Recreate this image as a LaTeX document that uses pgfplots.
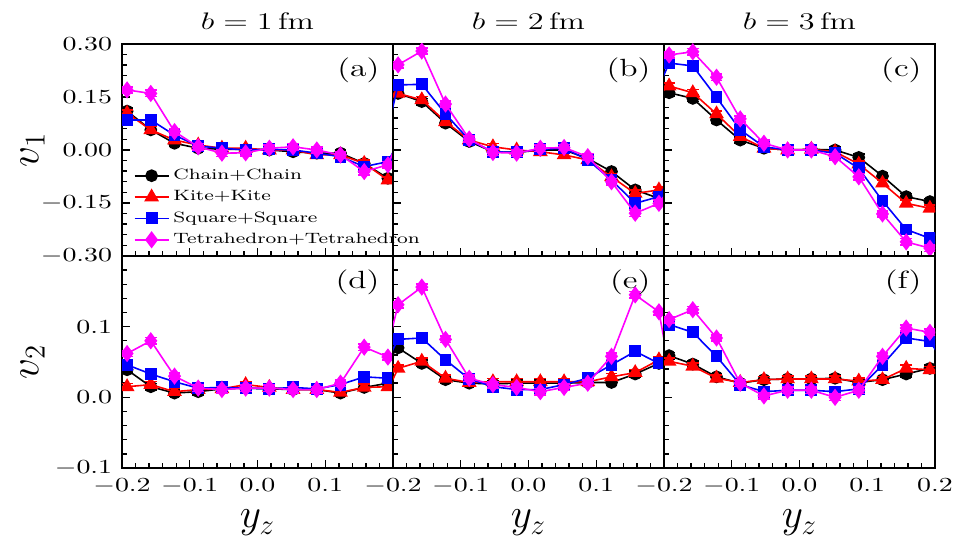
\documentclass[border=0pt]{standalone}
\usepackage{graphicx}
\usepackage{pgfplots}
\usepackage{pgfplotstable}
\pgfplotsset{compat=1.18}
\usepgfplotslibrary{groupplots}
\definecolor{mag}{RGB}{255,0,255}
\definecolor{rd}{RGB}{255,0,0}
\definecolor{bl}{RGB}{0,0,255}

\pgfplotstableread{
x ch ki sq te
-0.2275 0.090 0.090 0.065 0.130
-0.1925 0.110 0.104 0.085 0.170
-0.1575 0.057 0.057 0.085 0.160
-0.1225 0.019 0.028 0.042 0.052
-0.0875 0.005 0.014 0.011 0.009
-0.0525 0.002 0.005 0.005 -0.009
-0.0175 0.002 0.005 0.000 -0.008
0.0175 0.000 0.000 0.002 0.005
0.0525 -0.005 0.000 0.000 0.009
0.0875 -0.009 -0.014 -0.009 0.000
0.1225 -0.009 -0.014 -0.019 -0.014
0.1575 -0.038 -0.038 -0.047 -0.061
0.1925 -0.080 -0.085 -0.033 -0.042
0.2275 -0.050 -0.060 0.090 0.120
}\dataA
\pgfplotstableread{
x ch ki sq te
-0.2275 0.120 0.120 -0.100 0.180
-0.1925 0.160 0.160 0.184 0.241
-0.1575 0.137 0.142 0.186 0.280
-0.1225 0.076 0.080 0.102 0.130
-0.0875 0.024 0.028 0.028 0.031
-0.0525 -0.005 0.009 -0.005 -0.007
-0.0175 -0.007 0.000 -0.007 -0.009
0.0175 0.000 -0.005 0.002 0.005
0.0525 0.000 -0.014 0.005 0.007
0.0875 -0.024 -0.028 -0.028 -0.019
0.1225 -0.061 -0.076 -0.085 -0.090
0.1575 -0.113 -0.123 -0.151 -0.179
0.1925 -0.137 -0.113 -0.132 -0.151
0.2275 -0.100 -0.070 -0.020 -0.060
}\dataB
\pgfplotstableread{
x ch ki sq te
-0.2275 0.140 0.130 0.090 0.250
-0.1925 0.162 0.181 0.246 0.269
-0.1575 0.146 0.162 0.238 0.278
-0.1225 0.085 0.102 0.149 0.206
-0.0875 0.028 0.038 0.057 0.088
-0.0525 0.005 0.005 0.009 0.019
-0.0175 0.000 0.000 0.000 0.000
0.0175 0.002 0.002 0.000 0.000
0.0525 0.000 -0.005 -0.009 -0.019
0.0875 -0.021 -0.040 -0.052 -0.076
0.1225 -0.074 -0.094 -0.144 -0.181
0.1575 -0.132 -0.151 -0.225 -0.260
0.1925 -0.146 -0.165 -0.250 -0.278
0.2275 -0.130 -0.150 -0.200 -0.250
}\dataC
\pgfplotstableread{
x ch ki sq te
-0.2275 0.039 0.015 0.046 0.062
-0.1925 0.039 0.015 0.046 0.062
-0.1575 0.015 0.018 0.033 0.080
-0.1225 0.006 0.008 0.022 0.030
-0.0875 0.008 0.011 0.013 0.013
-0.0525 0.012 0.012 0.014 0.011
-0.0175 0.013 0.018 0.013 0.013
0.0175 0.012 0.014 0.012 0.013
0.0525 0.011 0.011 0.014 0.011
0.0875 0.011 0.011 0.012 0.011
0.1225 0.006 0.007 0.018 0.020
0.1575 0.014 0.014 0.029 0.071
0.1925 0.020 0.015 0.027 0.057
0.2275 0.020 0.015 0.027 0.057
}\dataD
\pgfplotstableread{
x ch ki sq te
-0.2275 0.030 -0.030 0.016 -0.006
-0.1925 0.070 0.041 0.082 0.131
-0.1575 0.048 0.051 0.084 0.156
-0.1225 0.025 0.027 0.053 0.082
-0.0875 0.020 0.021 0.026 0.027
-0.0525 0.019 0.022 0.015 0.018
-0.0175 0.020 0.022 0.011 0.014
0.0175 0.020 0.022 0.011 0.008
0.0525 0.020 0.022 0.018 0.014
0.0875 0.021 0.022 0.027 0.020
0.1225 0.021 0.029 0.046 0.058
0.1575 0.033 0.035 0.065 0.145
0.1925 0.048 0.053 0.048 0.121
0.2275 0.048 0.053 0.048 -0.060
}\dataE
\pgfplotstableread{
x ch ki sq te
-0.2275 0.059 0.051 0.080 0.100
-0.1925 0.059 0.051 0.103 0.110
-0.1575 0.047 0.044 0.092 0.124
-0.1225 0.029 0.027 0.058 0.084
-0.0875 0.020 0.021 0.018 0.020
-0.0525 0.025 0.025 0.008 0.002
-0.0175 0.026 0.026 0.010 0.010
0.0175 0.026 0.026 0.010 0.010
0.0525 0.027 0.026 0.008 0.000
0.0875 0.021 0.023 0.012 0.010
0.1225 0.025 0.025 0.046 0.058
0.1575 0.033 0.041 0.084 0.098
0.1925 0.041 0.039 0.079 0.092
0.2275 0.041 0.039 0.030 0.092
}\dataF

\pgfplotsset{
  chs/.style={black, line width=0.8pt, mark=*, mark size=2.8pt, mark options={solid}},
  kis/.style={rd, line width=0.8pt, mark=triangle*, mark size=3.5pt, mark options={solid}},
  sqs/.style={bl, line width=0.8pt, mark=square*, mark size=2.6pt, mark options={solid}},
  tes/.style={mag, line width=0.8pt, mark=diamond*, mark size=3.7pt, mark options={solid}},
}
\newcommand{\plotpanel}[2]{%
  \addplot[chs, error bars/.cd, y dir=both, y fixed=#2] table[x=x,y=ch]{#1};
  \addplot[kis, error bars/.cd, y dir=both, y fixed=#2] table[x=x,y=ki]{#1};
  \addplot[sqs, error bars/.cd, y dir=both, y fixed=#2] table[x=x,y=sq]{#1};
  \addplot[tes, error bars/.cd, y dir=both, y fixed=#2] table[x=x,y=te]{#1};
}
\newcommand{\lgs}[1]{\scalebox{1.35}[1]{#1}}
\tikzset{plab/.style={anchor=north east, font=\fontsize{12.5}{15}\selectfont, xscale=1.35}}

\begin{document}
\begin{tikzpicture}
\begin{groupplot}[
  group style={group size=3 by 2, horizontal sep=0pt, vertical sep=0pt, group name=G},
  width=135.5bp, height=106bp, scale only axis,
  xmin=-0.2, xmax=0.2,
  xtick={-0.2,-0.1,0,0.1,0.2},
  minor x tick num=4,
  minor y tick num=4,
  clip marker paths=true,
  tick align=inside, xtick pos=left, ytick pos=left,
  major tick length=4bp, minor tick length=2.5bp,
  every tick/.style={black, line width=0.7pt},
  axis line style={line width=1pt},
  tick label style={font=\fontsize{10}{12}\selectfont, xscale=1.4},
  xticklabel style={yshift=-2bp},
  title style={at={(0.5,1)}, anchor=base, yshift=1.5bp, font=\fontsize{13}{15}\selectfont, xscale=1.35},
  xlabel style={at={(0.5,0)}, anchor=base, yshift=-30bp, font=\fontsize{21}{24}\selectfont},
  ylabel style={at={(axis description cs:-0.33,0.5)}, anchor=center, font=\fontsize{21}{24}\selectfont},
  error bars/error bar style={line width=0.8pt},
  error bars/error mark options={rotate=90, mark size=3pt, line width=0.8pt},
]
% (a)
\nextgroupplot[ymin=-0.3, ymax=0.3, ytick={-0.3,-0.15,0,0.15,0.3},
  yticklabels={$-0.30$,$-0.15$,$0.00$,$0.15$,$0.30$}, xticklabels={},
  ylabel={$v_1$}, title={$b=1\,\mathrm{fm}$},
  legend style={at={(0.02,0.45)}, anchor=north west, draw=none, fill=none,
    font=\fontsize{7.5}{9}\selectfont, row sep=0pt},
  legend cell align=left]
\plotpanel{\dataA}{0.009}
\legend{\lgs{Chain+Chain},\lgs{Kite+Kite},\lgs{Square+Square},\lgs{Tetrahedron+Tetrahedron}}
\node[plab] at (rel axis cs:0.985,0.97) {(a)};
% (b)
\nextgroupplot[ymin=-0.3, ymax=0.3, ytick={-0.3,-0.15,0,0.15,0.3},
  yticklabels={}, xticklabels={}, title={$b=2\,\mathrm{fm}$}]
\plotpanel{\dataB}{0.009}
\node[plab] at (rel axis cs:0.985,0.97) {(b)};
% (c)
\nextgroupplot[ymin=-0.3, ymax=0.3, ytick={-0.3,-0.15,0,0.15,0.3},
  yticklabels={}, xticklabels={}, title={$b=3\,\mathrm{fm}$}]
\plotpanel{\dataC}{0.009}
\node[plab] at (rel axis cs:0.985,0.97) {(c)};
% (d)
\nextgroupplot[ymin=-0.1, ymax=0.2, ytick={-0.1,0,0.1,0.2},
  yticklabels={$-0.1$,$0.0$,$0.1$,{}},
  xticklabels={$-0.2$,$-0.1$,$0.0$,$0.1$,{}},
  ylabel={$v_2$}, xlabel={$y_z$}]
\plotpanel{\dataD}{0.0045}
\node[plab] at (rel axis cs:0.985,0.97) {(d)};
% (e)
\nextgroupplot[ymin=-0.1, ymax=0.2, ytick={-0.1,0,0.1,0.2},
  yticklabels={},
  xticklabels={$-0.2$,$-0.1$,$0.0$,$0.1$,{}},
  xlabel={$y_z$}]
\plotpanel{\dataE}{0.0045}
\node[plab] at (rel axis cs:0.985,0.97) {(e)};
% (f)
\nextgroupplot[ymin=-0.1, ymax=0.2, ytick={-0.1,0,0.1,0.2},
  yticklabels={},
  xticklabels={$-0.2$,$-0.1$,$0.0$,$0.1$,$0.2$},
  xlabel={$y_z$}]
\plotpanel{\dataF}{0.0045}
\node[plab] at (rel axis cs:0.985,0.97) {(f)};
\end{groupplot}
\pgfresetboundingbox
\path ([shift={(-61bp,22bp)}]G c1r1.north west) rectangle ([shift={(14bp,-39bp)}]G c3r2.south east);
\end{tikzpicture}
\end{document}
